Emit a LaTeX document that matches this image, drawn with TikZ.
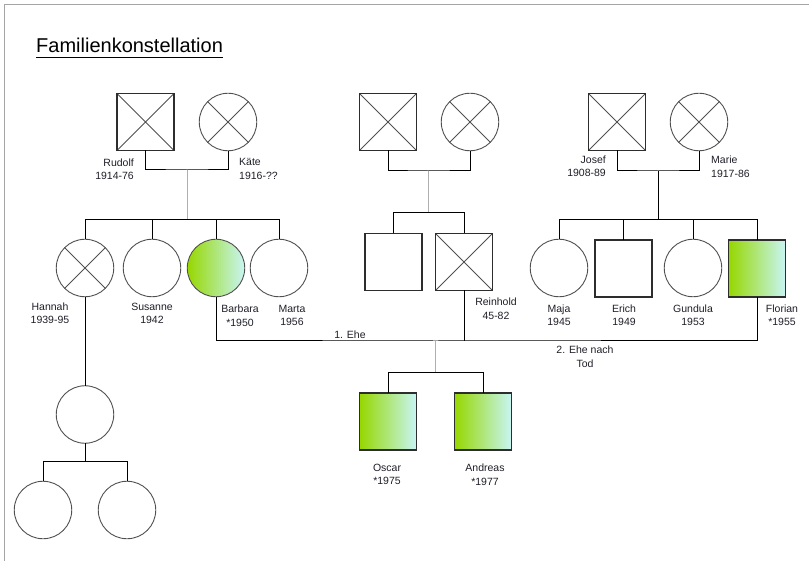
\documentclass[tikz,border=0pt]{standalone}
\usepackage{fontspec}
\setmainfont{Liberation Sans}
\definecolor{gL}{RGB}{150,215,0}
\definecolor{gR}{RGB}{200,245,245}
\definecolor{sqcol}{RGB}{45,45,45}
\definecolor{cicol}{RGB}{80,80,80}
\definecolor{stemgray}{RGB}{175,175,175}
\definecolor{framecol}{RGB}{165,165,165}
\definecolor{labcol}{RGB}{30,30,40}
\tikzset{
  person/.style={inner sep=0pt, outer sep=0pt},
  sq/.style={person, rectangle, draw=sqcol, line width=1.15pt, minimum size=57pt},
  ci/.style={person, circle, draw=cicol, line width=0.9pt, minimum size=57.5pt},
  dead/.style={path picture={
      \draw[cicol, line width=0.75pt]
        (path picture bounding box.north west) -- (path picture bounding box.south east)
        (path picture bounding box.south west) -- (path picture bounding box.north east);}},
  grad/.style={left color=gL, middle color=gL!36!gR, right color=gR},
  link/.style={draw=black, line width=1pt},
  stem/.style={draw=stemgray, line width=1pt},
  lbl/.style={inner sep=0pt, font=\fontsize{10.5}{13.5}\selectfont, text=labcol, align=center},
}
\begin{document}
\begin{tikzpicture}[x=1pt, y=-1pt]
\useasboundingbox (0,0) rectangle (809,561);
% page frame
\draw[framecol, line width=1.5pt] (4.5,561) -- (4.5,4.5) -- (809,4.5);

% title
\node[inner sep=0pt, anchor=base west, font=\fontsize{20}{24}\selectfont] (title) at (36,53) {Familienkonstellation};
\draw[black, line width=1pt] ([yshift=-4.5pt]title.base west) -- ([yshift=-4.5pt]title.base east);

% generation 1
\node[sq, dead] (rudolf) at (145.5,122) {};
\node[ci, dead] (kaete) at (228,122) {};
\node[sq, dead] (pm) at (388,122) {};
\node[ci, dead] (pf) at (470,122) {};
\node[sq, dead] (josef) at (617,122) {};
\node[ci, dead] (marie) at (699,122) {};

% generation 2
\node[ci, dead] (hannah) at (85,268) {};
\node[ci] (susanne) at (152,268) {};
\node[ci, grad] (barbara) at (216,268) {};
\node[ci] (marta) at (279,268) {};
\node[sq] (unk) at (393.5,262) {};
\node[sq, dead] (reinhold) at (464,262) {};
\node[ci] (maja) at (559,268) {};
\node[sq] (erich) at (623.5,268.5) {};
\node[ci] (gundula) at (693,268) {};
\node[sq, grad] (florian) at (757,268.5) {};

% generation 3
\node[sq, grad] (oscar) at (388,421.5) {};
\node[sq, grad] (andreas) at (483,421.5) {};
\node[ci] (hchild) at (85,414.5) {};

% generation 4
\node[ci] (gca) at (43,510) {};
\node[ci] (gcb) at (127,510) {};

% junctions
\coordinate (m1) at (187,170);
\coordinate (s1) at (187,220);
\coordinate (m2) at (428,171);
\coordinate (s2) at (428,213);
\coordinate (m3) at (658,171);
\coordinate (s3) at (658,220);
\coordinate (e1) at (435,341);
\coordinate (s4) at (435,373);
\coordinate (s5) at (85,461);

% left family
\draw[link] (rudolf.south) |- (m1) -| (kaete.south);
\draw[stem] (m1) -- (s1);
\draw[link] (hannah.north) |- (marta.north |- s1) -- (marta.north);
\draw[link] (susanne.north) -- (susanne.north |- s1);
\draw[link] (barbara.north) -- (barbara.north |- s1);

% middle family
\draw[link] (pm.south) |- (m2) -| (pf.south);
\draw[stem] (m2) -- (s2);
\draw[link] (unk.north) |- (reinhold.north |- s2) -- (reinhold.north);

% right family
\draw[link] (josef.south) |- (m3) -| (marie.south);
\draw[link] (m3) -- (s3);
\draw[link] (maja.north) |- (florian.north |- s3) -- (florian.north);
\draw[link] (erich.north) -- (erich.north |- s3);
\draw[link] (gundula.north) -- (gundula.north |- s3);

% marriages
\draw[link] (barbara.south) |- (e1) -| (florian.south);
\draw[link] (reinhold.south) -- (reinhold.south |- e1);
\draw[stem] (e1) -- (s4);
\draw[link] (oscar.north) |- (andreas.north |- s4) -- (andreas.north);

% Hannah's line
\draw[link] (hannah.south) -- (hchild.north);
\draw[link] (hchild.south) -- (s5);
\draw[link] (gca.north) |- (gcb.north |- s5) -- (gcb.north);

% labels
\node[lbl, align=right, anchor=east] (lrudolf) at (134,169) {Rudolf\\1914-76};
\node[lbl, align=left, anchor=west] (lkaete) at (239,169) {Käte\\1916-??};
\node[lbl, align=right, anchor=east] (ljosef) at (606,166.5) {Josef\\1908-89};
\node[lbl, align=left, anchor=west] (lmarie) at (711,166.5) {Marie\\1917-86};
\node[lbl] (lhannah) at (50,313) {Hannah\\1939-95};
\node[lbl] (lsusanne) at (152,313.5) {Susanne\\1942};
\node[lbl] (lbarbara) at (240,315.5) {Barbara\\*1950};
\node[lbl] (lmarta) at (292,315.5) {Marta\\1956};
\node[lbl] (lreinhold) at (496,308.5) {Reinhold\\45-82};
\node[lbl] (lmaja) at (559,315) {Maja\\1945};
\node[lbl] (lerich) at (624,315) {Erich\\1949};
\node[lbl] (lgundula) at (693,315) {Gundula\\1953};
\node[lbl] (lflorian) at (782,315) {Florian\\*1955};
\node[lbl] (lehe1) at (350,334.5) {1. Ehe};
\node[lbl] (lehe2) at (585,356.5) {2. Ehe nach\\Tod};
\node[lbl] (loscar) at (387,474.5) {Oscar\\*1975};
\node[lbl] (landreas) at (485,474.5) {Andreas\\*1977};
\end{tikzpicture}
\end{document}
